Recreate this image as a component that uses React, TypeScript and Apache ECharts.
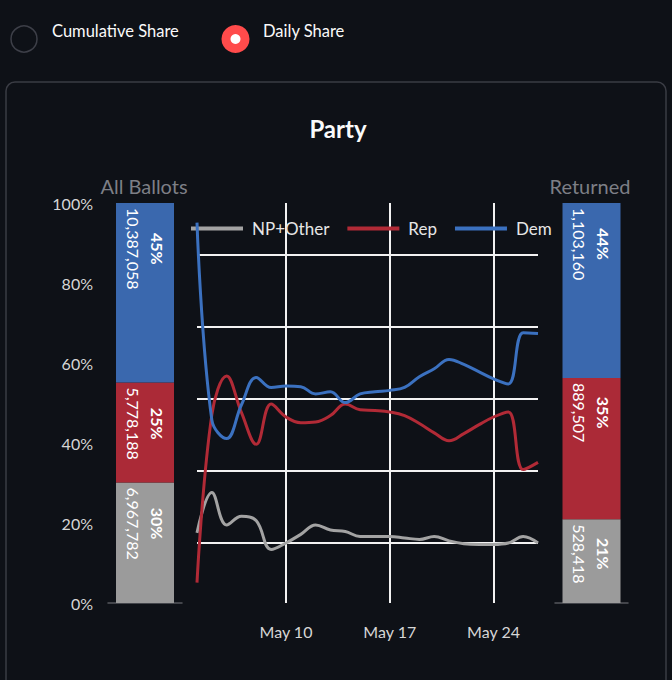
import React, { useEffect, useRef } from "react";
import * as echarts from "echarts";

// ---------- data ----------
const parties = ["NP+Other", "Rep", "Dem"];
const barColors = ["#9b9b9b", "#ab2a37", "#3a68ae"];
const lineColors = ["#a3a3a3", "#b12a36", "#3b71c0"];

const allBallotsCategory = ["All Ballots"];
const returnedCategory = ["Returned"];
const allBallotCounts = [6967782, 5778188, 10387058];
const returnedCounts = [528418, 889507, 1103160];

const outerTicks = [0, 0.2, 0.4, 0.6, 0.8, 1];

const dates = [
  "May 4", "May 5", "May 6", "May 7", "May 8", "May 9", "May 10", "May 11",
  "May 12", "May 13", "May 14", "May 15", "May 16", "May 17", "May 18", "May 19",
  "May 20", "May 21", "May 22", "May 23", "May 24", "May 25", "May 26", "May 27",
];
const labeledDates = ["May 10", "May 17", "May 24"];

const otherShare = [
  0.214, 0.27, 0.225, 0.237, 0.231, 0.191, 0.2, 0.212, 0.225, 0.218, 0.216, 0.209,
  0.209, 0.209, 0.207, 0.205, 0.209, 0.203, 0.199, 0.198, 0.198, 0.2, 0.209, 0.2,
];
const repShare = [
  0.145, 0.378, 0.432, 0.381, 0.337, 0.393, 0.375, 0.367, 0.368, 0.377, 0.393, 0.385,
  0.384, 0.382, 0.377, 0.366, 0.353, 0.342, 0.352, 0.364, 0.375, 0.382, 0.302, 0.312,
];
const demShare = [
  0.645, 0.371, 0.345, 0.392, 0.43, 0.416, 0.418, 0.417, 0.407, 0.41, 0.395, 0.407,
  0.41, 0.412, 0.416, 0.431, 0.442, 0.455, 0.448, 0.438, 0.428, 0.421, 0.492, 0.491,
];
const dailyShares = [otherShare, repShare, demShare];

const innerDomain = [0.11667, 0.67222];
const innerGridValues = [0.2, 0.3, 0.4, 0.5, 0.6];

// ---------- styling ----------
const FONT = "Lato, 'Noto Sans', sans-serif";
const BG = "#0e1117";
const GRIDLINE = "#f2f2f2";

function fmtCount(n: number) {
  return n.toLocaleString("en-US");
}

function barSeries(counts: number[], axisIndex: number, stack: string) {
  const total = counts.reduce((a, b) => a + b, 0);
  return counts.map((c, i) => ({
    type: "bar",
    name: parties[i],
    xAxisIndex: axisIndex,
    yAxisIndex: axisIndex,
    stack,
    barWidth: 58,
    silent: true,
    data: [c / total],
    itemStyle: { color: barColors[i] },
    label: {
      show: true,
      position: "insideTop",
      distance: 5,
      rotate: -90,
      align: "left",
      verticalAlign: "middle",
      formatter: () =>
        `{p|${Math.round((c / total) * 100)}%}\n{n|${fmtCount(c)}}`,
      rich: {
        p: {
          align: "center",
          fontWeight: "bold",
          fontSize: 16,
          lineHeight: 24,
          color: "#ffffff",
          fontFamily: FONT,
        },
        n: {
          align: "center",
          fontSize: 16,
          lineHeight: 24,
          color: "#ffffff",
          fontFamily: FONT,
        },
      },
    },
    z: 2,
  }));
}

export default function App() {
  const ref = useRef<HTMLDivElement>(null);

  useEffect(() => {
    document.body.style.margin = "0";
    document.body.style.background = BG;
    if (!ref.current) return;
    const chart = echarts.init(ref.current, undefined, { renderer: "svg" });

    const lineSeries = dailyShares.map((vals, i) => ({
      type: "line",
      name: parties[i],
      xAxisIndex: 1,
      yAxisIndex: 1,
      data: vals,
      smooth: 0.4,
      showSymbol: false,
      silent: true,
      lineStyle: { width: 3, color: lineColors[i] },
      itemStyle: { color: lineColors[i] },
      z: 4,
    }));

    const gridSeries = {
      type: "line",
      xAxisIndex: 1,
      yAxisIndex: 1,
      data: otherShare,
      showSymbol: false,
      silent: true,
      lineStyle: { opacity: 0 },
      z: 1,
      markLine: {
        silent: true,
        z: 1,
        symbol: ["none", "none"],
        label: { show: false },
        lineStyle: { color: GRIDLINE, width: 2, type: "solid" },
        emphasis: { disabled: true },
        data: innerGridValues.map((v) => ({ yAxis: v })),
      },
    };

    const textEl = (
      text: string,
      x: number,
      y: number,
      font: string,
      fill: string,
      align: string
    ) => ({
      type: "text",
      x,
      y,
      silent: true,
      style: {
        text,
        fill,
        font,
        textAlign: align,
        textVerticalAlign: "middle",
        align,
        verticalAlign: "middle",
      },
    });

    const option = {
      animation: false,
      backgroundColor: BG,
      textStyle: { fontFamily: FONT },
      legend: {
        data: parties,
        left: 186,
        top: 215,
        icon: "rect",
        itemWidth: 52,
        itemHeight: 4,
        itemGap: 18,
        selectedMode: false,
        textStyle: {
          color: "#e6e6e6",
          fontSize: 17,
          fontFamily: FONT,
          padding: [0, 0, 0, 4],
        },
      },
      grid: [
        { left: 108, top: 203, width: 74, height: 400 },
        { left: 197, top: 203, width: 341, height: 400 },
        { left: 555, top: 203, width: 73, height: 400 },
      ],
      xAxis: [
        {
          type: "category",
          gridIndex: 0,
          data: allBallotsCategory,
          axisLine: { show: true, lineStyle: { color: "#55575e", width: 1.5 } },
          axisTick: { show: false },
          axisLabel: { show: false },
        },
        {
          type: "category",
          gridIndex: 1,
          data: dates,
          boundaryGap: false,
          axisLine: { show: false },
          axisTick: { show: false },
          axisLabel: {
            interval: (_i: number, v: string) => labeledDates.includes(v),
            color: "#d6d6d6",
            fontSize: 16,
            margin: 20,
            fontFamily: FONT,
          },
          splitLine: {
            show: true,
            interval: (_i: number, v: string) => labeledDates.includes(v),
            lineStyle: { color: GRIDLINE, width: 2 },
          },
        },
        {
          type: "category",
          gridIndex: 2,
          data: returnedCategory,
          axisLine: { show: true, lineStyle: { color: "#55575e", width: 1.5 } },
          axisTick: { show: false },
          axisLabel: { show: false },
        },
      ],
      yAxis: [
        {
          type: "value",
          gridIndex: 0,
          min: outerTicks[0],
          max: outerTicks[outerTicks.length - 1],
          interval: outerTicks[1] - outerTicks[0],
          axisLine: { show: false },
          axisTick: { show: false },
          splitLine: { show: false },
          axisLabel: {
            color: "#d6d6d6",
            fontSize: 16,
            margin: 15,
            fontFamily: FONT,
            formatter: (v: number) => `${Math.round(v * 100)}%`,
          },
        },
        {
          type: "value",
          gridIndex: 1,
          min: innerDomain[0],
          max: innerDomain[1],
          show: false,
          splitLine: { show: false },
        },
        {
          type: "value",
          gridIndex: 2,
          min: 0,
          max: 1,
          show: false,
          splitLine: { show: false },
        },
      ],
      graphic: [
        {
          type: "rect",
          shape: { x: 6, y: 82, width: 660, height: 640, r: 9 },
          style: { fill: "none", stroke: "#3a3c44", lineWidth: 1.5 },
          z: -1,
          silent: true,
        },
        {
          type: "circle",
          shape: { cx: 24, cy: 39, r: 13 },
          style: { fill: BG, stroke: "#3d3f48", lineWidth: 1.5 },
          silent: true,
        },
        {
          type: "circle",
          shape: { cx: 235.5, cy: 39, r: 14 },
          style: { fill: "#ff4b4b" },
          silent: true,
        },
        {
          type: "circle",
          shape: { cx: 235.5, cy: 39, r: 5 },
          style: { fill: "#ffffff" },
          silent: true,
        },
        textEl("Cumulative Share", 52, 31, `16.5px ${FONT}`, "#fafafa", "left"),
        textEl("Daily Share", 263, 31, `16.5px ${FONT}`, "#fafafa", "left"),
        textEl("Party", 338, 128, `bold 24px ${FONT}`, "#fafafa", "center"),
        textEl(allBallotsCategory[0], 144, 186, `20px ${FONT}`, "#7d7f86", "center"),
        textEl(returnedCategory[0], 590, 186, `20px ${FONT}`, "#7d7f86", "center"),
      ],
      series: [
        gridSeries,
        ...lineSeries,
        ...barSeries(allBallotCounts, 0, "all"),
        ...barSeries(returnedCounts, 2, "ret"),
      ],
    };

    chart.setOption(option as any);
    return () => chart.dispose();
  }, []);

  return (
    <div
      ref={ref}
      style={{ position: "absolute", left: 0, top: 0, width: 672, height: 680 }}
    />
  );
}
